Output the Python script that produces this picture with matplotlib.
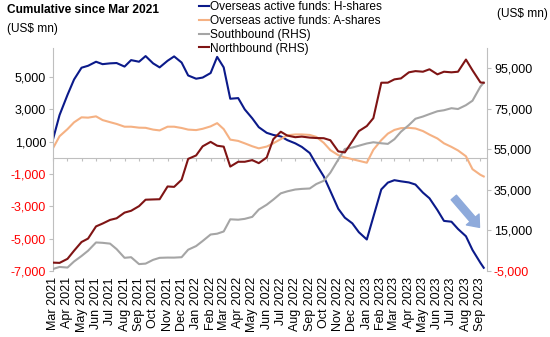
import numpy as np
import pandas as pd
import matplotlib
matplotlib.use('Agg')
from matplotlib import pyplot as plt
import matplotlib.dates as mdates

plt.rcParams['font.family'] = ['Liberation Sans', 'DejaVu Sans']

# semi-monthly readings, Mar 2021 - Sep 2023
dates = list(pd.date_range('2021-03-01', '2023-09-01', freq='SMS')) + [pd.Timestamp('2023-09-08')]

h_shares = [1150, 2650, 3900, 4850, 5580, 5700, 5950, 5800, 5850, 5870,
            5650, 6050, 5950, 6300, 5850, 5600, 6010, 6280, 5900, 5100,
            4900, 4970, 5250, 6250, 5600, 3660, 3700, 3000, 2450, 1900,
            1550, 1420, 1330, 1100, 900, 680, 300, -400, -1150, -2050,
            -3150, -3700, -4050, -4600, -5050, -3650, -1950, -1530, -1380, -1450,
            -1520, -1650, -2150, -2500, -3230, -3900, -3950, -4400, -4850, -5700,
            -6500, -6800]

a_shares = [600, 1340, 1780, 2200, 2510, 2490, 2570, 2340, 2210, 2100,
            1930, 1930, 1870, 1860, 1750, 1700, 1930, 1930, 1850, 1750,
            1720, 1800, 1950, 2150, 1780, 1130, 1050, 900, 720, 590,
            700, 900, 1160, 1400, 1450, 1450, 1420, 1300, 930, 480,
            170, 30, -80, -180, -300, 500, 1100, 1500, 1730, 1840,
            1860, 1820, 1660, 1440, 1200, 900, 680, 460, 100, -700,
            -1050, -1150]

southbound = [-4000, -3000, -3300, -300, 2400, 5000, 9080, 8900, 8500, 5800,
              1500, 1800, -1600, -1360, 500, 1500, 1620, 1600, 1800, 5500,
              7300, 9800, 13000, 13400, 14500, 20500, 20300, 20720, 21700, 25300,
              27700, 30200, 33300, 34300, 35200, 35500, 35700, 37900, 39500, 43500,
              50000, 55200, 55900, 56800, 57900, 58500, 58000, 57700, 60000, 63700,
              67000, 70100, 71200, 72400, 73800, 74300, 75300, 74900, 76800, 79000,
              86000, 87870]

northbound = [-870, -1000, 1000, 5000, 9300, 11000, 17000, 18400, 20200, 21000,
              23800, 24700, 27000, 30170, 30300, 30400, 36700, 36500, 40000, 50300,
              52000, 56500, 58700, 56800, 56340, 46500, 48880, 48880, 49700, 48200,
              51000, 60000, 63700, 61800, 61000, 61300, 60800, 60600, 60500, 59500,
              54000, 53500, 59000, 64000, 66500, 70400, 87870, 87900, 89530, 90000,
              93000, 93600, 93300, 94500, 92000, 93300, 93000, 93300, 99300, 94000,
              88000, 87870]

labels = ['Overseas active funds: H-shares', 'Overseas active funds: A-shares',
          'Southbound (RHS)', 'Northbound (RHS)']
left_ticks = [-7000, -5000, -3000, -1000, 1000, 3000, 5000]
right_ticks = [-5000, 15000, 35000, 55000, 75000, 95000]

grey_axis = '#bfbfbf'
left_lim = (-7000, 6800)

fig = plt.figure(figsize=(5.5, 3.37), dpi=100)
ax = fig.add_axes([53 / 550, 66 / 337, 434 / 550, 223 / 337])
ax2 = ax.twinx()

l1, = ax.plot(dates, h_shares, color='#0b1a8a', lw=1.5)
l2, = ax.plot(dates, a_shares, color='#f5b183', lw=1.5)
l3, = ax2.plot(dates, southbound, color='#a5a5a5', lw=1.5)
l4, = ax2.plot(dates, northbound, color='#7f1414', lw=1.5)

ax.set_xlim(pd.Timestamp('2021-03-01'), pd.Timestamp('2023-09-15'))
ax.set_ylim(*left_lim)
ax2.set_ylim(-5000, 105000)

ax.set_yticks(left_ticks)
ax.set_yticklabels([f'{v:,}' for v in left_ticks])
ax2.set_yticks(right_ticks)
ax2.set_yticklabels([f'{v:,}' for v in right_ticks])
for lbl, v in zip(ax.get_yticklabels(), left_ticks):
    lbl.set_color('#ff0000' if v < 0 else 'black')
for lbl, v in zip(ax2.get_yticklabels(), right_ticks):
    lbl.set_color('#ff0000' if v < 0 else 'black')

ax.xaxis.set_major_locator(mdates.MonthLocator())
ax.xaxis.set_major_formatter(mdates.DateFormatter('%b %Y'))
ax.tick_params(axis='x', length=0, pad=4.5, labelsize=9, rotation=90)
ax.tick_params(axis='y', length=3, color=grey_axis, labelsize=9, pad=2)
ax2.tick_params(axis='y', length=3, color=grey_axis, labelsize=9, pad=2)

for s in ['top', 'bottom', 'right']:
    ax.spines[s].set_visible(False)
for s in ['top', 'bottom', 'left']:
    ax2.spines[s].set_visible(False)
ax.spines['left'].set_color(grey_axis)
ax2.spines['right'].set_color(grey_axis)

# horizontal axis line at zero with month ticks
zero_frac = (0 - left_lim[0]) / (left_lim[1] - left_lim[0])
sec = ax.secondary_xaxis(zero_frac)
sec.set_alignment('bottom')
sec.xaxis.set_major_locator(mdates.MonthLocator())
sec.xaxis.set_major_formatter(plt.NullFormatter())
sec.tick_params(axis='x', length=2.5, color=grey_axis)
sec.spines['bottom'].set_color(grey_axis)

ax.annotate('', xy=(mdates.date2num(pd.Timestamp('2023-08-30')), -4300),
            xytext=(mdates.date2num(pd.Timestamp('2023-07-06')), -2450),
            arrowprops=dict(arrowstyle='simple,head_length=0.75,head_width=1.2,tail_width=0.5',
                            color='#8eaadb', mutation_scale=10, shrinkA=0, shrinkB=0))

fig.text(7 / 550, 1 - 10 / 337, 'Cumulative since Mar 2021', fontsize=8.6,
         fontweight='bold', va='center', ha='left')
fig.text(7 / 550, 1 - 29 / 337, '(US$ mn)', fontsize=8.6, va='center', ha='left')
fig.text(497 / 550, 1 - 14 / 337, '(US$ mn)', fontsize=8.6, va='center', ha='left')

fig.legend([l1, l2, l3, l4], labels, loc='upper left',
           bbox_to_anchor=(199 / 550, 1 - 1.5 / 337), frameon=False, fontsize=8.6,
           handlelength=0.85, handletextpad=0.1, labelspacing=0.14,
           borderpad=0, borderaxespad=0)

fig.savefig('out.png', dpi=100)
